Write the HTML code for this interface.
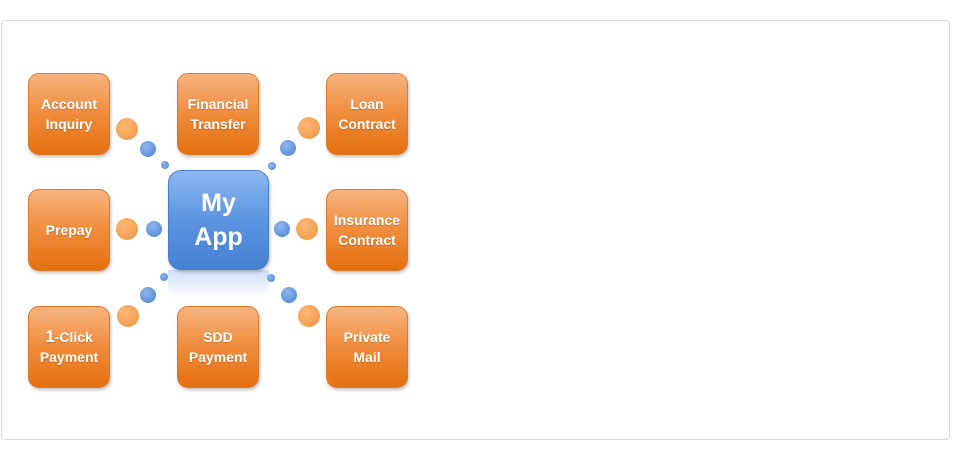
<!DOCTYPE html>
<html><head><style>
body{margin:0;width:975px;height:450px;background:#fff;font-family:"Liberation Sans",sans-serif;position:relative;overflow:hidden}
.panel{position:absolute;left:1px;top:20px;width:947px;height:418px;border:1px solid #d9d9d9;border-radius:4px}
.b{position:absolute;width:82px;height:82px;border-radius:11px;background:linear-gradient(#f6b47f,#f08c3c 50%,#e4700f);border:1px solid #e07a2a;box-sizing:border-box;box-shadow:1px 2px 3px rgba(0,0,0,.25);color:#fff;font-weight:bold;font-size:14px;line-height:20px;display:flex;align-items:center;justify-content:center;text-align:center;text-shadow:0 1px 1px rgba(0,0,0,.2)}
.c{position:absolute;left:168px;top:170px;width:101px;height:100px;border-radius:13px;background:linear-gradient(#8cb8f2,#5b94e0 50%,#4580d2);border:1px solid #4a7fc8;box-sizing:border-box;box-shadow:1px 2px 3px rgba(0,0,0,.25);color:#fff;font-weight:bold;font-size:25px;line-height:34px;display:flex;align-items:center;justify-content:center;text-align:center}
.r{position:absolute;left:168px;top:270px;width:101px;height:28px;background:linear-gradient(rgba(120,165,230,.35),rgba(255,255,255,0));border-radius:0 0 13px 13px}
.o,.u{position:absolute;border-radius:50%}
.o{background:radial-gradient(circle at 40% 35%,#fbb878,#f0923c);}
.u{background:radial-gradient(circle at 40% 35%,#8fb6ee,#4a82d2);}
</style></head><body>
<div class="panel"></div>
<div class="b" style="left:28px;top:73px">Account<br>Inquiry</div>
<div class="b" style="left:177px;top:73px">Financial<br>Transfer</div>
<div class="b" style="left:326px;top:73px">Loan<br>Contract</div>
<div class="b" style="left:28px;top:189px">Prepay</div>
<div class="b" style="left:326px;top:189px">Insurance<br>Contract</div>
<div class="b" style="left:28px;top:306px"><span><span style="font-size:17px">1</span>-Click<br>Payment</span></div>
<div class="b" style="left:177px;top:306px">SDD<br>Payment</div>
<div class="b" style="left:326px;top:306px">Private<br>Mail</div>
<div class="r"></div>
<div class="c">My<br>App</div>
<div class="o" style="left:116px;top:118px;width:22px;height:22px"></div>
<div class="u" style="left:140px;top:141px;width:16px;height:16px"></div>
<div class="u" style="left:161px;top:161px;width:8px;height:8px"></div>
<div class="o" style="left:298px;top:117px;width:22px;height:22px"></div>
<div class="u" style="left:280px;top:140px;width:16px;height:16px"></div>
<div class="u" style="left:268px;top:162px;width:8px;height:8px"></div>
<div class="o" style="left:116px;top:218px;width:22px;height:22px"></div>
<div class="u" style="left:146px;top:221px;width:16px;height:16px"></div>
<div class="u" style="left:274px;top:221px;width:16px;height:16px"></div>
<div class="o" style="left:296px;top:218px;width:22px;height:22px"></div>
<div class="u" style="left:160px;top:273px;width:8px;height:8px"></div>
<div class="u" style="left:140px;top:287px;width:16px;height:16px"></div>
<div class="o" style="left:117px;top:305px;width:22px;height:22px"></div>
<div class="u" style="left:267px;top:274px;width:8px;height:8px"></div>
<div class="u" style="left:281px;top:287px;width:16px;height:16px"></div>
<div class="o" style="left:298px;top:305px;width:22px;height:22px"></div>
</body></html>
